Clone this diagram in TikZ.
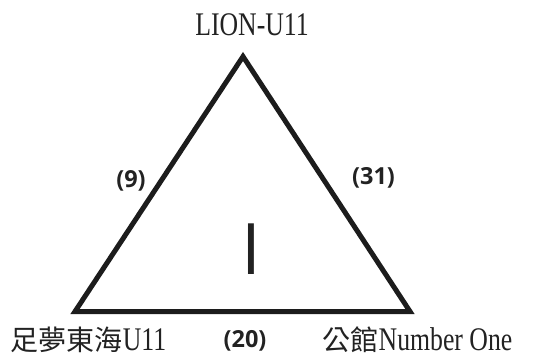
\documentclass[tikz,border=0pt]{standalone}
\usepackage{fontspec}
\setmainfont{Liberation Serif}[FakeStretch=0.78]
\newfontfamily\cjkfont{Noto Sans CJK TC}
\newfontfamily\numfont{Open Sans}
\usetikzlibrary{positioning}
\definecolor{edgeblack}{HTML}{1C1C1C}
\definecolor{textblack}{HTML}{222222}

\tikzset{
  team/.style={inner sep=0pt, text=textblack, font=\fontsize{33}{36}\selectfont},
  score/.style={inner sep=0pt, text=textblack, font=\numfont\bfseries\fontsize{23.5}{26}\selectfont}
}

\begin{document}
\begin{tikzpicture}[x=1pt, y=1pt]
          \useasboundingbox (0,0) rectangle (534,356);

          % Vértices del triángulo
          \coordinate (lion) at (243,299.5);
          \coordinate (zumeng) at (75,44.5);
          \coordinate (gongguan) at (410,44.5);
          \draw[line width=5pt, edgeblack] (lion) -- (gongguan) -- (zumeng) -- cycle;

          % Equipos
          \node[team] (lionlabel) at (252,331) {LION-U11};
          \node[team] (zumenglabel) at (88.5,16.5) {{\cjkfont\fontsize{28}{30}\selectfont 足夢東海}U11};
          \node[team] (gongguanlabel) at (417.5,16.5) {{\cjkfont\fontsize{28}{30}\selectfont 公館}Number One};

          % Resultados
          \node[score] (leftscore) at (131,175) {(9)};
          \node[score] (rightscore) at (373.5,178) {(31)};
          \node[score] (bottomscore) at (245,15) {(20)};

          % Grupo
          \node[inner sep=0pt, text=textblack, font=\numfont\fontsize{71}{72}\selectfont] (group) at (251.5,106.5) {I};
        \end{tikzpicture}
\end{document}
